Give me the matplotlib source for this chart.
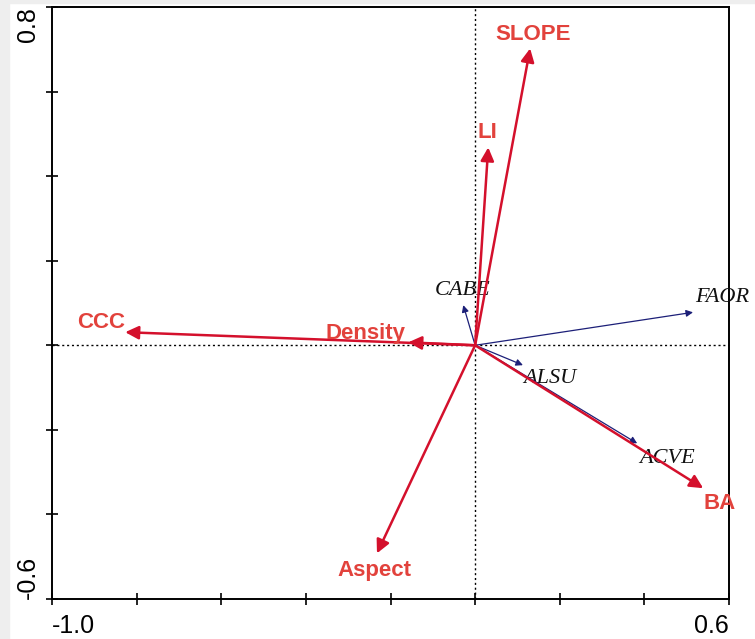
import matplotlib
matplotlib.use('Agg')
import matplotlib.pyplot as plt
from matplotlib.patches import Rectangle

# environmental variables (red arrows)
env_names = ['SLOPE', 'LI', 'CCC', 'Density', 'Aspect', 'BA']
env_x = [0.130, 0.031, -0.827, -0.158, -0.232, 0.539]
env_y = [0.702, 0.468, 0.031, 0.007, -0.492, -0.338]

# species (blue arrows)
sp_names = ['CABE', 'FAOR', 'ALSU', 'ACVE']
sp_x = [-0.028, 0.515, 0.113, 0.383]
sp_y = [0.095, 0.078, -0.047, -0.232]

# label offsets (data units) relative to arrow tip
env_lab_dx = [0.008, -0.003, -0.057, -0.100, -0.005, 0.040]
env_lab_dy = [0.033, 0.035, 0.023, 0.021, -0.040, -0.036]
sp_lab_dx = [-0.002, 0.005, 0.064, 0.070]
sp_lab_dy = [0.035, 0.035, -0.031, -0.036]
sp_lab_ha = ['center', 'left', 'center', 'center']

red_arrow = '#d4102c'
red_text = '#e2423c'
blue_arrow = '#1c1f78'

fig = plt.figure(figsize=(7.55, 6.39), dpi=100, facecolor='white')
fig.patches.append(Rectangle((0, 0), 9 / 755, 1, transform=fig.transFigure,
                             color='#eeeeee', zorder=0))
fig.patches.append(Rectangle((0, 1 - 3 / 639), 1, 3 / 639, transform=fig.transFigure,
                             color='#eeeeee', zorder=0))
ax = fig.add_axes([52 / 755, 40 / 639, 677 / 755, 592 / 639])

ax.set_xlim(-1.0, 0.6)
ax.set_ylim(-0.6, 0.8)

ax.axhline(0, color='black', ls=(0, (1.5, 2)), lw=1)
ax.axvline(0, color='black', ls=(0, (1.5, 2)), lw=1)

for name, x, y, dx, dy, ha in zip(sp_names, sp_x, sp_y, sp_lab_dx, sp_lab_dy, sp_lab_ha):
    ax.annotate('', xy=(x, y), xytext=(0, 0),
                arrowprops=dict(arrowstyle='-|>', color=blue_arrow, lw=0.9,
                                mutation_scale=10, shrinkA=0, shrinkB=0))
    ax.text(x + dx, y + dy, name, family='Liberation Serif', style='italic',
            fontsize=16, color='#111111', ha=ha, va='center')

for name, x, y, dx, dy in zip(env_names, env_x, env_y, env_lab_dx, env_lab_dy):
    ax.annotate('', xy=(x, y), xytext=(0, 0),
                arrowprops=dict(arrowstyle='-|>', color=red_arrow, lw=1.8,
                                mutation_scale=20, shrinkA=0, shrinkB=0))
    ax.text(x + dx, y + dy, name, family='Liberation Sans', weight='bold',
            fontsize=16, color=red_text, ha='center', va='center')

ax.set_xticks([-1.0, -0.8, -0.6, -0.4, -0.2, 0.0, 0.2, 0.4, 0.6])
ax.set_xticklabels(['-1.0', '', '', '', '', '', '', '', '0.6'])
ax.set_yticks([-0.6, -0.4, -0.2, 0.0, 0.2, 0.4, 0.6, 0.8])
ax.set_yticklabels(['-0.6', '', '', '', '', '', '', '0.8'], rotation=90)
ax.tick_params(direction='inout', length=8, width=1.2, labelsize=18, pad=7)
ax.tick_params(axis='y', pad=5)
for lab in ax.get_xticklabels():
    lab.set_family('Liberation Sans')
for lab in ax.get_yticklabels():
    lab.set_family('Liberation Sans')
xl = ax.get_xticklabels()
xl[0].set_ha('left')
xl[-1].set_ha('right')
yl = ax.get_yticklabels()
yl[0].set_va('bottom')
yl[-1].set_va('top')

for s in ax.spines.values():
    s.set_linewidth(1.4)

fig.savefig('out.png', dpi=100, facecolor=fig.get_facecolor())
